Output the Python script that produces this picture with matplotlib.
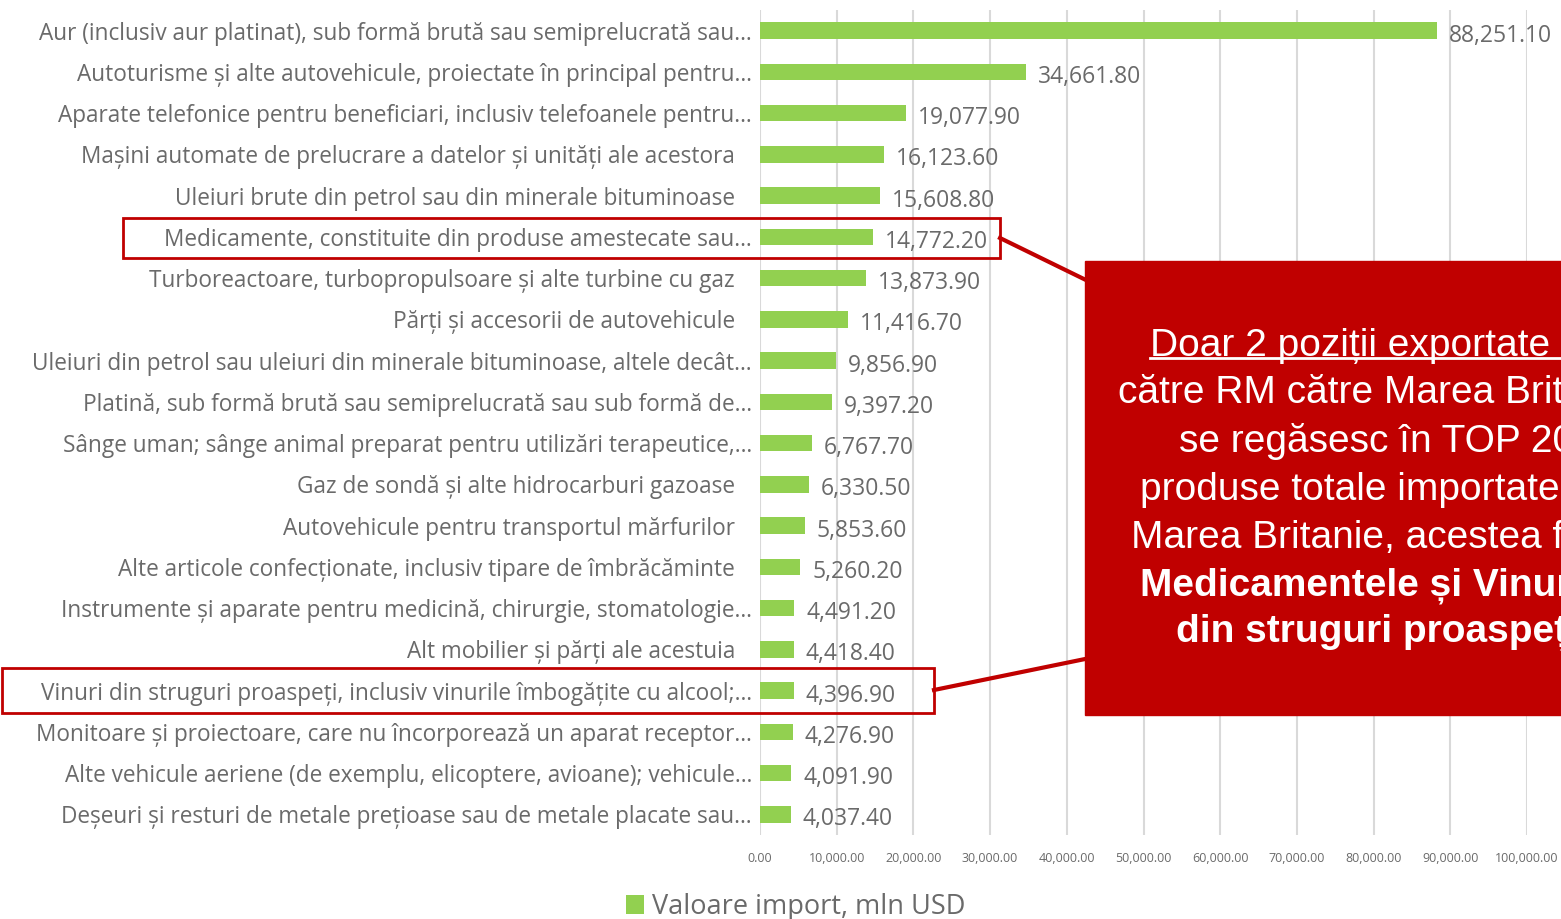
import matplotlib
matplotlib.use("Agg")
import matplotlib.pyplot as plt
from matplotlib.patches import Rectangle
from matplotlib.lines import Line2D
import matplotlib.transforms as mtransforms

categories = [
    "Aur (inclusiv aur platinat), sub formă brută sau semiprelucrată sau…",
    "Autoturisme și alte autovehicule, proiectate în principal pentru…",
    "Aparate telefonice pentru beneficiari, inclusiv telefoanele pentru…",
    "Mașini automate de prelucrare a datelor și unități ale acestora",
    "Uleiuri brute din petrol sau din minerale bituminoase",
    "Medicamente, constituite din produse amestecate sau…",
    "Turboreactoare, turbopropulsoare și alte turbine cu gaz",
    "Părți și accesorii de autovehicule",
    "Uleiuri din petrol sau uleiuri din minerale bituminoase, altele decât…",
    "Platină, sub formă brută sau semiprelucrată sau sub formă de…",
    "Sânge uman; sânge animal preparat pentru utilizări terapeutice,…",
    "Gaz de sondă și alte hidrocarburi gazoase",
    "Autovehicule pentru transportul mărfurilor",
    "Alte articole confecționate, inclusiv tipare de îmbrăcăminte",
    "Instrumente și aparate pentru medicină, chirurgie, stomatologie…",
    "Alt mobilier și părți ale acestuia",
    "Vinuri din struguri proaspeți, inclusiv vinurile îmbogățite cu alcool;…",
    "Monitoare și proiectoare, care nu încorporează un aparat receptor…",
    "Alte vehicule aeriene (de exemplu, elicoptere, avioane); vehicule…",
    "Deșeuri și resturi de metale prețioase sau de metale placate sau…",
]
values = [88251.10, 34661.80, 19077.90, 16123.60, 15608.80, 14772.20, 13873.90,
          11416.70, 9856.90, 9397.20, 6767.70, 6330.50, 5853.60, 5260.20,
          4491.20, 4418.40, 4396.90, 4276.90, 4091.90, 4037.40]
x_ticks = list(range(0, 100001, 10000))
legend_label = "Valoare import, mln USD"
box_lines = [
    ("Doar 2 poziții exportate de", "normal", True),
    ("către RM către Marea Britanie", "normal", False),
    ("se regăsesc în TOP 20", "normal", False),
    ("produse totale importate de", "normal", False),
    ("Marea Britanie, acestea fiind", "normal", False),
    ("Medicamentele și Vinurile", "bold", False),
    ("din struguri proaspeți", "bold", False),
]

W, H = 1561, 919
plt.rcParams['font.family'] = ['Open Sans', 'DejaVu Sans']
fig = plt.figure(figsize=(W / 100, H / 100), dpi=100)

def fx(px):
    return px / W

def fy(py):
    return 1 - py / H

ax = fig.add_axes([fx(760), fy(835), fx(1527) - fx(760), fy(10) - fy(835)])
GREEN = "#92D050"
GRAY = "#6A6A6A"
RED = "#C00000"

y = list(range(len(categories)))
ax.barh(y, values, height=0.4, color=GREEN, zorder=3)
ax.set_ylim(len(categories) - 0.5, -0.5)
ax.set_xlim(0, 100000)
ax.set_xticks(x_ticks)
ax.set_xticklabels([f"{v:,.2f}" for v in x_ticks], fontsize=9, color=GRAY)
ax.tick_params(axis='x', length=0, pad=12)
ax.set_yticks([])
for s in ax.spines.values():
    s.set_visible(False)
ax.grid(axis='x', color="#D9D9D9", linewidth=1.5, zorder=0)
ax.set_axisbelow(True)

# value labels
for i, v in enumerate(values):
    ax.annotate(f"{v:,.2f}", xy=(v, i), xytext=(12, -5), textcoords='offset pixels',
                ha='left', va='center', fontsize=16.5, color=GRAY)

# category labels
blend = mtransforms.blended_transform_factory(ax.transAxes, ax.transData)
for i, c in enumerate(categories):
    off = -8 if c.endswith("…") else -25
    tr = blend + mtransforms.ScaledTranslation(off / 100, -3 / 100, fig.dpi_scale_trans)
    ax.text(0, i, c, transform=tr, ha='right', va='center', fontsize=16.3, color=GRAY)

# highlight boxes
fig.add_artist(Rectangle((fx(123), fy(258)), fx(1000) - fx(123), fy(218) - fy(258),
                         fill=False, edgecolor=RED, linewidth=2, transform=fig.transFigure))
fig.add_artist(Rectangle((fx(2), fy(713)), fx(934) - fx(2), fy(668) - fy(713),
                         fill=False, edgecolor=RED, linewidth=2, transform=fig.transFigure))
# connectors
fig.add_artist(Line2D([fx(1000), fx(1090)], [fy(238), fy(282)], color=RED, linewidth=3,
                      transform=fig.transFigure))
fig.add_artist(Line2D([fx(934), fx(1090)], [fy(690), fy(658)], color=RED, linewidth=3,
                      transform=fig.transFigure))
# big callout box
fig.add_artist(Rectangle((fx(1085), fy(715)), fx(1675) - fx(1085), fy(261) - fy(715),
                         facecolor=RED, edgecolor=RED, transform=fig.transFigure, zorder=5))
line_y = [346, 393, 442, 490, 538, 586, 632]
texts = []
for (t, w, ul), py in zip(box_lines, line_y):
    tt = fig.text(fx(1377), fy(py), t, ha='center', va='center', fontsize=28,
                  color='white', fontweight=w, family='Liberation Sans', zorder=6)
    texts.append((tt, ul))

fig.canvas.draw()
r = fig.canvas.get_renderer()
for tt, ul in texts:
    if ul:
        bb = tt.get_window_extent(r)
        yb = bb.y0 + 6
        fig.add_artist(Line2D([bb.x0 / W, bb.x1 / W], [yb / H, yb / H], color='white',
                              linewidth=2, transform=fig.transFigure, zorder=7))

# legend
handle = Rectangle((0, 0), 1, 1, facecolor=GREEN)
fig.legend([handle], [legend_label], loc='center', bbox_to_anchor=(fx(796), fy(907)),
           frameon=False, fontsize=19.5, labelcolor=GRAY, handlelength=0.65, handleheight=0.65,
           handletextpad=0.3)

fig.savefig("out.png", dpi=100)
